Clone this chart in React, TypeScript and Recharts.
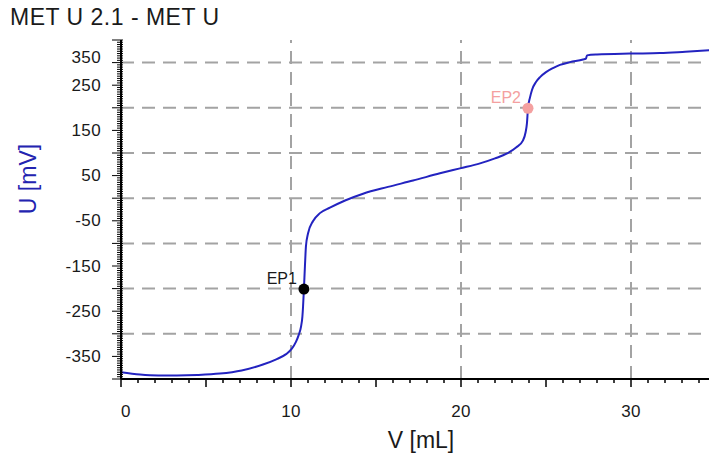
import React from 'react';
import { LineChart, Line, XAxis, YAxis, ReferenceLine, ReferenceDot } from 'recharts';

// Titration curve: volume (mL) vs potential (mV)
const volumes = [
  0, 1.12, 2.2, 3.29, 4.5, 5.82, 7.1, 8.35, 9.1, 9.71, 10.05, 10.29, 10.45, 10.59, 10.67, 10.71, 10.76,
  10.82, 10.88, 11.0, 11.29, 11.7, 12.29, 13.18, 14.24, 15.7, 17.18, 18.76, 19.94, 21.12, 22.0, 22.71,
  23.24, 23.65, 23.8, 23.88, 23.94, 24.06, 24.18, 24.41, 24.65, 25.0, 25.41, 25.82, 26.41, 27.18, 27.35,
  27.41, 28.0, 29.94, 31.7, 33.2, 35.0,
];
const potentials = [
  -385, -390, -392, -392, -391, -388, -381, -368, -357, -345, -333, -318, -303, -284, -262, -239, -201,
  -150, -106, -78, -51, -33, -21, -5, 10, 25, 39, 55, 66, 77, 88, 99,
  112, 128, 146, 166, 199, 223, 240, 257, 268, 279, 288, 295, 301, 307, 309,
  316, 318, 320, 321, 324, 328,
];
const data = volumes.map((v, i) => ({ v, u: potentials[i] }));

const xLabelTicks = [0, 10, 20, 30];
const yLabelTicks = [350, 250, 150, 50, -50, -150, -250, -350];
const xGridValues = [10, 20, 30];
const yGridValues = [300, 200, 100, 0, -100, -200, -300];
const xMinorTicks = Array.from({ length: 36 }, (_, i) => i);
const yMinorTicks = Array.from({ length: 151 }, (_, i) => -400 + 5 * i);

const epNames = ['EP1', 'EP2'];
const epVolumes = [10.76, 23.94];
const epPotentials = [-201, 199];
const epColors = ['#000000', '#f4a0a0'];

const FONT = '"Liberation Sans", Arial, sans-serif';

const YTick = (props: any) => {
  const { x, y, payload } = props;
  const v = payload.value;
  const major = v % 50 === 0;
  const len = major ? 9 : 4;
  const showLabel = yLabelTicks.includes(v);
  const ty = v === 350 ? y + 17 : y;
  return (
    <g>
      <line x1={x + 2} x2={x - len} y1={y} y2={y} stroke="#000" strokeWidth={1} />
      {showLabel && (
        <text x={x - 20} y={ty} textAnchor="end" dominantBaseline="central" fontSize={17} letterSpacing={0.4} fontFamily={FONT} fill="#1a1a1a">
          {v}
        </text>
      )}
    </g>
  );
};

const XTick = (props: any) => {
  const { x, y, payload } = props;
  const v = payload.value;
  const major = v % 5 === 0;
  const len = major ? 8 : 4;
  const showLabel = xLabelTicks.includes(v);
  const tx = v === 0 ? x + 5 : x;
  return (
    <g>
      <line x1={x} x2={x} y1={y} y2={y + len} stroke="#000" strokeWidth={1.5} />
      {showLabel && (
        <text x={tx} y={y + 32} textAnchor="middle" dominantBaseline="central" fontSize={17} letterSpacing={0.4} fontFamily={FONT} fill="#1a1a1a">
          {v}
        </text>
      )}
    </g>
  );
};

const epShape = (name: string, color: string) => (props: any) => {
  const { cx, cy } = props;
  return (
    <g>
      <circle cx={cx} cy={cy} r={5.5} fill={color} />
      <text x={cx - 7} y={cy - 5} textAnchor="end" fontSize={16} fontFamily={FONT} fill={color === '#000000' ? '#1a1a1a' : color}>
        {name}
      </text>
    </g>
  );
};

export default function App() {
  return (
    <div style={{ position: 'fixed', left: 0, top: 0, width: 709, height: 456, overflow: 'hidden', background: '#fff' }}>
      <div style={{ position: 'absolute', left: 10, top: 4, fontFamily: FONT, fontSize: 23, letterSpacing: 0.5, color: '#1a1a1a', whiteSpace: 'nowrap' }}>
        MET U 2.1 - MET U
      </div>
      <div
        style={{
          position: 'absolute', left: 28, top: 179, transform: 'translate(-50%, -50%) rotate(-90deg)',
          fontFamily: FONT, fontSize: 23, color: '#2323b0', whiteSpace: 'nowrap',
        }}
      >
        U [mV]
      </div>
      <div
        style={{
          position: 'absolute', left: 421, top: 440, transform: 'translate(-50%, -50%)',
          fontFamily: FONT, fontSize: 23, color: '#1a1a1a', whiteSpace: 'nowrap',
        }}
      >
        V [mL]
      </div>
      <div style={{ position: 'absolute', left: 0, top: 0 }}>
        <LineChart width={730} height={456} data={data} margin={{ top: 40, right: 14, bottom: 0, left: 0 }}>
          <XAxis
            dataKey="v"
            type="number"
            domain={[0, 35]}
            ticks={xMinorTicks}
            interval={0}
            height={77}
            tickSize={0}
            tickMargin={0}
            tickLine={false}
            tick={<XTick />}
            axisLine={{ stroke: '#000', strokeWidth: 2 }}
            allowDataOverflow
          />
          <XAxis
            xAxisId="top"
            orientation="top"
            dataKey="v"
            type="number"
            domain={[0, 35]}
            ticks={xMinorTicks}
            interval={0}
            height={0}
            mirror
            tickSize={3}
            tick={false}
            tickLine={{ stroke: '#000', strokeWidth: 1.5 }}
            axisLine={{ stroke: '#000', strokeWidth: 2 }}
          />
          <YAxis
            type="number"
            domain={[-400, 350]}
            ticks={yMinorTicks}
            interval={0}
            width={121}
            tickSize={0}
            tickMargin={0}
            tickLine={false}
            tick={<YTick />}
            axisLine={{ stroke: '#000', strokeWidth: 2 }}
            allowDataOverflow
          />
          {yGridValues.map((g) => (
            <ReferenceLine key={'h' + g} y={g} stroke="#a3a3a3" strokeWidth={2} strokeDasharray="13 8" />
          ))}
          {xGridValues.map((g) => (
            <ReferenceLine key={'v' + g} x={g} stroke="#a3a3a3" strokeWidth={2} strokeDasharray="13 8" />
          ))}
          <Line type="monotone" dataKey="u" stroke="#2323c0" strokeWidth={2} dot={false} isAnimationActive={false} />
          {epNames.map((n, i) => (
            <ReferenceDot key={n} x={epVolumes[i]} y={epPotentials[i]} r={5.5} shape={epShape(n, epColors[i])} />
          ))}
        </LineChart>
      </div>
    </div>
  );
}
